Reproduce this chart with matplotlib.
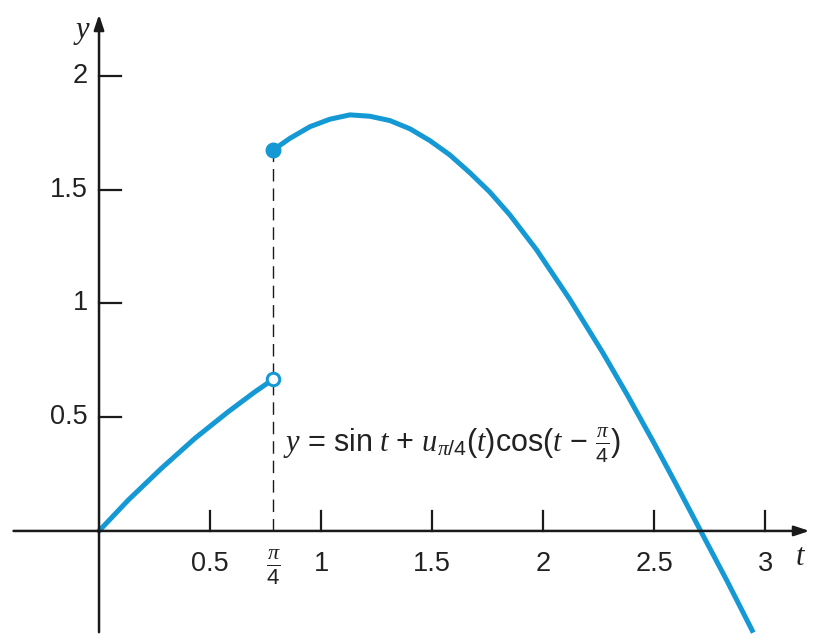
import numpy as np
import matplotlib
matplotlib.use("Agg")
import matplotlib.pyplot as plt

plt.rcParams['font.family'] = ['Liberation Sans', 'DejaVu Sans']
plt.rcParams['mathtext.fontset'] = 'custom'
plt.rcParams['mathtext.rm'] = 'Liberation Sans'
plt.rcParams['mathtext.it'] = 'Liberation Serif:italic'
plt.rcParams['mathtext.default'] = 'it'

# values
t_left = [0.0, 0.132, 0.282, 0.432, 0.582, 0.703, 0.785]
y_left = [0.0, 0.136, 0.276, 0.407, 0.524, 0.612, 0.667]

t_right = [0.785, 0.86, 0.95, 1.04, 1.13, 1.22, 1.31, 1.40, 1.49, 1.58, 1.67,
           1.76, 1.85, 1.97, 2.12, 2.27, 2.38, 2.50, 2.60, 2.71, 2.83, 2.947]
y_right = [1.675, 1.726, 1.777, 1.81, 1.829, 1.823, 1.804, 1.768, 1.716, 1.653,
           1.575, 1.49, 1.39, 1.237, 1.019, 0.782, 0.597, 0.386, 0.204, 0.0,
           -0.222, -0.447]

t_jump = np.pi / 4
xticks = [0.5, 1, 1.5, 2, 2.5, 3]
xticklabels = ['0.5', '1', '1.5', '2', '2.5', '3']
yticks = [0.5, 1, 1.5, 2]
yticklabels = ['0.5', '1', '1.5', '2']

blue = '#1599d5'
ink = '#1a1a1a'

fig = plt.figure(figsize=(8.17, 6.44), dpi=100)
ax = fig.add_axes([0, 0, 1, 1])
ax.set_xlim(-0.446, 3.234)
ax.set_ylim(-0.497, 2.334)
ax.set_xticks([])
ax.set_yticks([])
for s in ax.spines.values():
    s.set_visible(False)

# axes with arrows
arrow = dict(arrowstyle='-|>,head_length=0.9,head_width=0.3',
             color=ink, lw=1.8, shrinkA=0, shrinkB=0)
ax.annotate('', xy=(3.2, 0), xytext=(-0.385, 0), arrowprops=arrow)
ax.annotate('', xy=(0, 2.27), xytext=(0, -0.445), arrowprops=arrow)

# ticks
for xt, lab in zip(xticks, xticklabels):
    ax.plot([xt, xt], [0, 0.088], color=ink, lw=1.6)
    ax.text(xt, -0.09, lab, ha='center', va='top', fontsize=19.5, color='#222222')
for yt, lab in zip(yticks, yticklabels):
    ax.plot([0, 0.1], [yt, yt], color=ink, lw=1.6)
    ax.text(-0.05, yt, lab, ha='right', va='center', fontsize=19.5, color='#222222')
ax.text(t_jump, -0.07, r'$\frac{\pi}{4}$', ha='center', va='top', fontsize=23,
        color='#222222')

ax.text(3.158, -0.114, r'$t$', ha='center', va='center', fontsize=22, color='#222222')
ax.text(-0.077, 2.193, r'$y$', ha='center', va='center', fontsize=22, color='#222222')

# dashed guide
ax.plot([t_jump, t_jump], [0, y_right[0]], color=ink, lw=1.0, dashes=(9, 5))

ax.plot(t_left, y_left, color=blue, lw=3.6, solid_capstyle='round')
ax.plot(t_right, y_right, color=blue, lw=3.6, solid_capstyle='butt',
        solid_joinstyle='round')
ax.plot(t_left[-1], y_left[-1], 'o', ms=9, mfc='white', mec=blue, mew=2.2)
ax.plot(t_right[0], y_right[0], 'o', ms=10.5, color=blue)

ax.text(0.829, 0.378,
        r'$y\,=\,\mathrm{sin}\ t\,+\,u_{\pi/4}(t)\mathrm{cos}(t\,-\,\frac{\pi}{4})$',
        ha='left', va='center', fontsize=22, color='#222222')

fig.savefig('out.png', dpi=100)
